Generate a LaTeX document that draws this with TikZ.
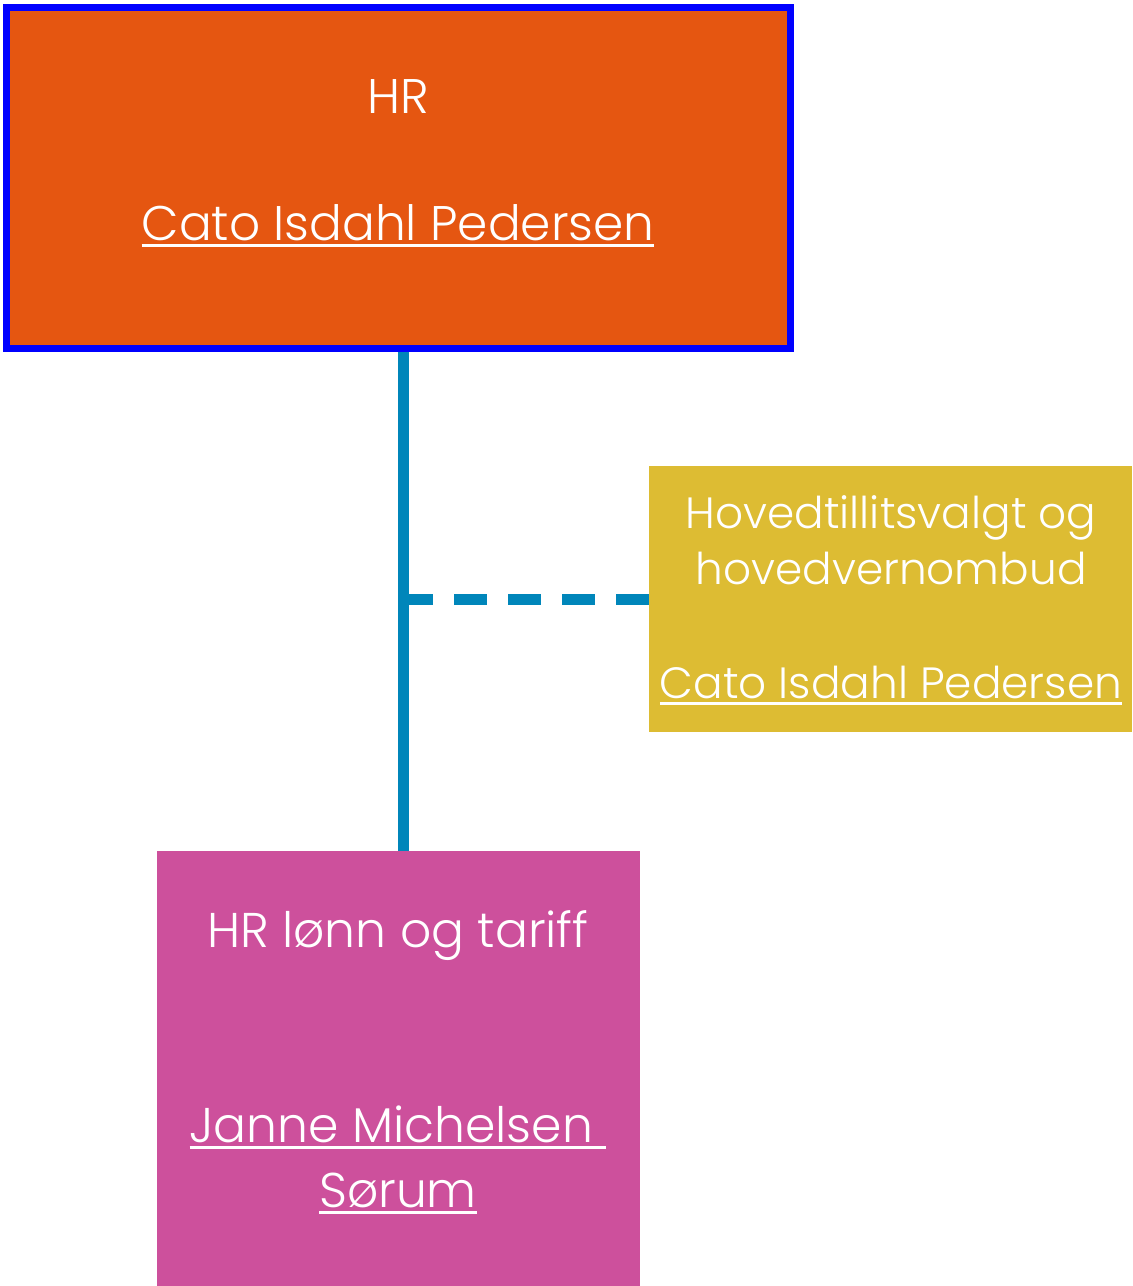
\documentclass[tikz,border=0pt]{standalone}
\usepackage{fontspec}
\setmainfont{Poppins}[UprightFont=* Light]
\usepackage{tikz}
\usetikzlibrary{positioning}
\pgfdeclarelayer{bg}
\pgfsetlayers{bg,main}
\definecolor{hrorange}{RGB}{229,86,17}
\definecolor{tillityellow}{RGB}{221,188,51}
\definecolor{lonnpink}{RGB}{205,80,156}
\definecolor{hrblue}{RGB}{0,0,255}
\definecolor{linkblue}{RGB}{0,134,186}
\newcommand{\linkname}[1]{\setbox0\hbox{#1}\rlap{\rule[-3.3pt]{\wd0}{1.2pt}}\box0}

\begin{document}
\begin{tikzpicture}[x=0.5pt, y=-0.5pt, orgline/.style={draw=linkblue, line width=5.5pt}, orgtext/.style={text=white, align=center, inner sep=0pt, anchor=base}]
%
\useasboundingbox (0,0) rectangle (1132,1286);

% HR
\node [rectangle, fill=hrorange, draw=hrblue, line width=3.5pt, minimum width=391.75pt, minimum height=170.5pt, inner sep=0pt, outer sep=0pt, anchor=north west] (hr) at (6.5,7.5) {};
\node [orgtext, font=\fontsize{24.3}{31.75}\selectfont] (hrtext) at (398,240) {HR\\ \\ \linkname{Cato Isdahl Pedersen}};

% HOVEDTILLITSVALGT
\node [rectangle, fill=tillityellow, minimum width=241.5pt, minimum height=133pt, inner sep=0pt, outer sep=0pt, anchor=north west] (tillit) at (649,466) {};
\node [orgtext, font=\fontsize{21.9}{28.3}\selectfont] (tillittext) at (891,698) {Hovedtillitsvalgt og\\hovedvernombud\\ \\ \linkname{Cato Isdahl Pedersen}};

% HR LONN OG TARIFF
\node [rectangle, fill=lonnpink, minimum width=241.5pt, minimum height=217.5pt, inner sep=0pt, outer sep=0pt, anchor=north west] (lonn) at (157,851) {};
\node [orgtext, font=\fontsize{24.4}{32.5}\selectfont] (lonntext) at (398,1207) {HR lønn og tariff\\ \\ \\ \linkname{Janne Michelsen\ }\\ \linkname{Sørum}};

% connectors
\coordinate (trunk) at ([xshift=2.5pt]hr.south);
\coordinate (branch) at (trunk |- tillit.west);
\begin{pgfonlayer}{bg}
\draw [orgline] (trunk) -- (trunk |- lonn.north);
\draw [orgline, dash pattern=on 16.5pt off 10.5pt, dash phase=1.5pt] (branch) -- (tillit.west);
\end{pgfonlayer}
\end{tikzpicture}
\end{document}
